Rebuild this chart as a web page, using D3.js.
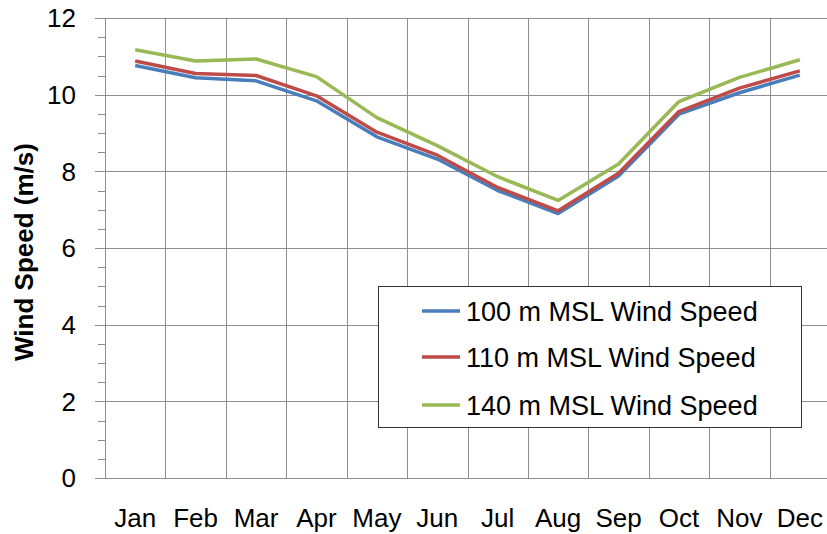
<!DOCTYPE html>
<html>
<head>
<meta charset="utf-8">
<script src="https://cdn.jsdelivr.net/npm/d3@7"></script>
<style>
  body { margin: 0; background: #fff; }
  svg { display: block; font-family: 'Liberation Sans', Arial, sans-serif; }
</style>
</head>
<body>
<div id="chart"></div>
<script>
const months = ['Jan', 'Feb', 'Mar', 'Apr', 'May', 'Jun', 'Jul', 'Aug', 'Sep', 'Oct', 'Nov', 'Dec'];
const ws100 = [10.76, 10.44, 10.36, 9.84, 8.90, 8.32, 7.50, 6.90, 7.88, 9.49, 10.05, 10.51];
const ws110 = [10.88, 10.55, 10.50, 9.97, 9.02, 8.42, 7.58, 6.97, 7.95, 9.56, 10.17, 10.62];
const ws140 = [11.17, 10.88, 10.93, 10.47, 9.40, 8.67, 7.86, 7.24, 8.19, 9.82, 10.45, 10.91];
const seriesNames = ['100 m MSL Wind Speed', '110 m MSL Wind Speed', '140 m MSL Wind Speed'];
const colors = ['#4a7ebb', '#be4b48', '#98b954'];
const yTicks = [0, 2, 4, 6, 8, 10, 12];

const width = 827, height = 534;
const plot = { left: 105, right: 830, top: 18, bottom: 478 };

const svg = d3.select('#chart')
  .append('svg')
  .attr('width', width)
  .attr('height', height);

const x = d3.scaleBand()
  .domain(months)
  .range([plot.left, plot.right]);

const y = d3.scaleLinear()
  .domain([0, 12])
  .range([plot.bottom, plot.top]);

// gridlines
const grid = svg.append('g').attr('stroke', '#8e8e8e').attr('stroke-width', 1);
grid.selectAll('.hgrid')
  .data(yTicks)
  .enter()
  .append('line')
  .attr('x1', plot.left - 10)
  .attr('x2', plot.right)
  .attr('y1', (d) => Math.round(y(d)) + 0.5)
  .attr('y2', (d) => Math.round(y(d)) + 0.5);
grid.selectAll('.vgrid')
  .data(months.slice(1))
  .enter()
  .append('line')
  .attr('x1', (d) => Math.round(x(d)) + 0.5)
  .attr('x2', (d) => Math.round(x(d)) + 0.5)
  .attr('y1', plot.top)
  .attr('y2', plot.bottom);

// y axis line + minor ticks
grid.append('line')
  .attr('x1', plot.left + 0.5)
  .attr('x2', plot.left + 0.5)
  .attr('y1', plot.top)
  .attr('y2', plot.bottom);
grid.selectAll('.minor')
  .data(d3.range(0, 12, 0.5).filter((v) => v % 2 !== 0))
  .enter()
  .append('line')
  .attr('x1', plot.left - 7)
  .attr('x2', plot.left)
  .attr('y1', (d) => Math.round(y(d)) + 0.5)
  .attr('y2', (d) => Math.round(y(d)) + 0.5);

// y tick labels
svg.append('g')
  .selectAll('text')
  .data(yTicks)
  .enter()
  .append('text')
  .attr('x', 76)
  .attr('y', (d) => y(d))
  .attr('dy', '0.36em')
  .attr('text-anchor', 'end')
  .attr('font-size', 26)
  .attr('fill', '#000')
  .text((d) => d);

// x labels
svg.append('g')
  .selectAll('text')
  .data(months)
  .enter()
  .append('text')
  .attr('x', (d) => x(d) + x.bandwidth() / 2)
  .attr('y', 527)
  .attr('text-anchor', 'middle')
  .attr('font-size', 26)
  .attr('fill', '#000')
  .text((d) => d);

// y title
svg.append('text')
  .attr('transform', 'translate(33,252) rotate(-90)')
  .attr('text-anchor', 'middle')
  .attr('font-size', 26)
  .attr('font-weight', 'bold')
  .text('Wind Speed (m/s)');

// lines
const series = [ws100, ws110, ws140];
const line = d3.line()
  .x((d, i) => x(months[i]) + x.bandwidth() / 2)
  .y((d) => y(d));
svg.append('g')
  .selectAll('path')
  .data(series)
  .enter()
  .append('path')
  .attr('d', line)
  .attr('fill', 'none')
  .attr('stroke', (d, i) => colors[i])
  .attr('stroke-width', 3.5)
  .attr('stroke-linejoin', 'round');

// legend
const legend = svg.append('g');
legend.append('rect')
  .attr('x', 378.5)
  .attr('y', 286.5)
  .attr('width', 423)
  .attr('height', 141)
  .attr('fill', '#fff')
  .attr('stroke', '#333')
  .attr('stroke-width', 1);
const rows = [311, 357, 405];
const item = legend.selectAll('.item')
  .data(seriesNames)
  .enter()
  .append('g')
  .attr('transform', (d, i) => `translate(0,${rows[i]})`);
item.append('line')
  .attr('x1', 422)
  .attr('x2', 460)
  .attr('stroke', (d, i) => colors[i])
  .attr('stroke-width', 3.5);
item.append('text')
  .attr('x', 466)
  .attr('dy', '0.36em')
  .attr('font-size', 27)
  .text((d) => d);
</script>
</body>
</html>
